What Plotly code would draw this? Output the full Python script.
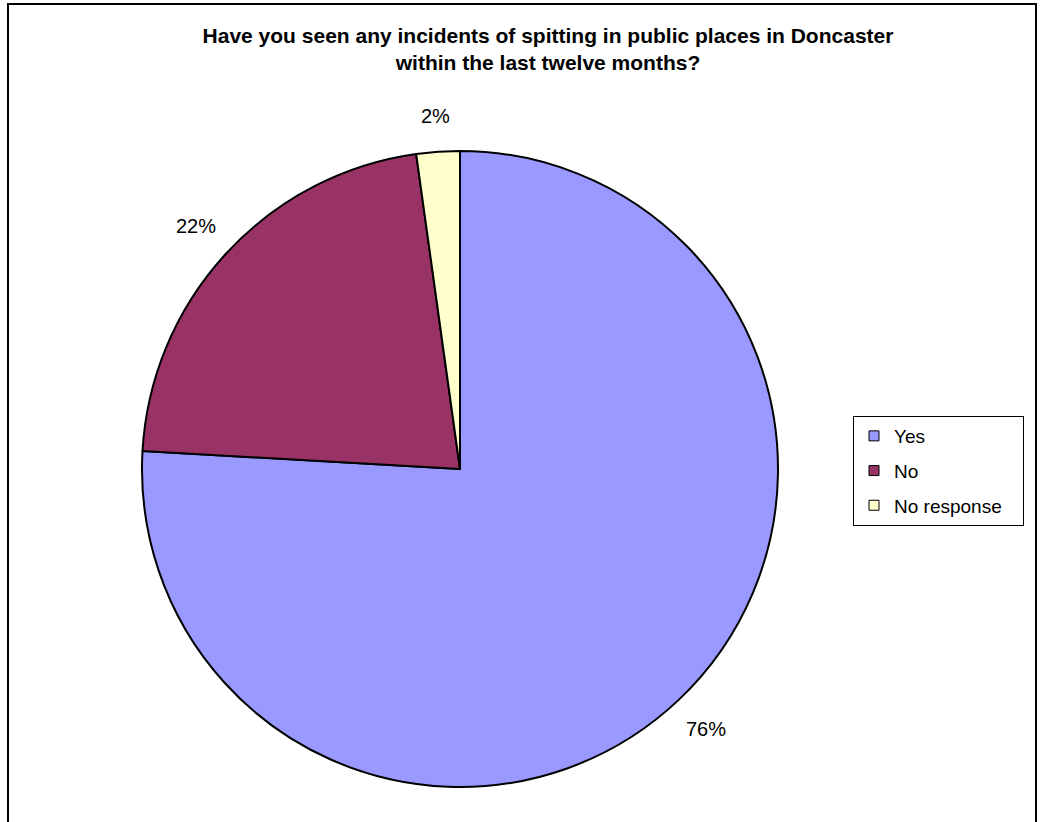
import math
import plotly.graph_objects as go

# Data
categories = ["Yes", "No", "No response"]
values = [75.9, 21.9, 2.2]
colors = ["#9999FF", "#993366", "#FFFFCC"]

title_text = ("<b>Have you seen any incidents of spitting in public places in Doncaster<br>"
              "within the last twelve months?</b>")

W, H = 1040, 822
cx, cy, r = 460, 469, 318
FONT = "Arial, Liberation Sans, sans-serif"

fig = go.Figure()
fig.add_trace(go.Pie(
    labels=categories,
    values=values,
    sort=False,
    direction="clockwise",
    rotation=0,
    marker=dict(colors=colors, line=dict(color="black", width=2)),
    textinfo="none",
    showlegend=False,
    hoverinfo="label+percent",
    domain=dict(x=[(cx - r) / W, (cx + r) / W], y=[1 - (cy + r) / H, 1 - (cy - r) / H]),
))

# Percentage labels placed outside each slice, derived from the values
total = sum(values)
cum = 0.0
annotations = []
for v in values:
    mid = (cum + v / 2) / total * 2 * math.pi  # clockwise from 12 o'clock
    cum += v
    txt = f"{round(v / total * 100)}%"
    s, c = math.sin(mid), math.cos(mid)
    hw, hh = 5.6 * len(txt) + 3, 10
    t = min(hw / abs(s) if abs(s) > 1e-6 else 1e9, hh / abs(c) if abs(c) > 1e-6 else 1e9)
    d = r + 26 + t
    px, py = cx + d * s, cy - d * c
    annotations.append(dict(
        text=txt, x=px / W, y=1 - py / H, xref="paper", yref="paper",
        xanchor="center", yanchor="middle", showarrow=False,
        font=dict(family=FONT, size=20, color="black"),
    ))

# legend entries (one group per category for spacing)
pad = "\u00a0" * 3
for name, col in zip(categories, colors):
    fig.add_trace(go.Scatter(
        x=[None], y=[None], mode="markers", name=name + pad, legendgroup=name,
        marker=dict(symbol="square", size=10, color=col, line=dict(color="black", width=1)),
        showlegend=True, hoverinfo="skip",
    ))

fig.update_layout(
    width=W, height=H,
    margin=dict(l=0, r=0, t=0, b=0),
    paper_bgcolor="white", plot_bgcolor="white",
    xaxis=dict(visible=False), yaxis=dict(visible=False),
    title=dict(text=title_text, x=548 / W, xanchor="center", y=1 - 43 / H, yanchor="middle",
               font=dict(family=FONT, size=21, color="black")),
    legend=dict(
        x=853 / W, xanchor="left", y=1 - 416 / H, yanchor="top",
        bgcolor="white", bordercolor="black", borderwidth=1,
        font=dict(family=FONT, size=19, color="black"),
        tracegroupgap=7, traceorder="grouped",
    ),
    annotations=annotations,
    shapes=[dict(type="rect", xref="paper", yref="paper",
                 x0=8 / W, x1=1036 / W, y0=-0.05, y1=1 - 4 / H,
                 line=dict(color="black", width=2), fillcolor="rgba(0,0,0,0)")],
)

fig.write_html("out.html", config={"displayModeBar": False},
               post_script="document.body.style.margin='0px';")
